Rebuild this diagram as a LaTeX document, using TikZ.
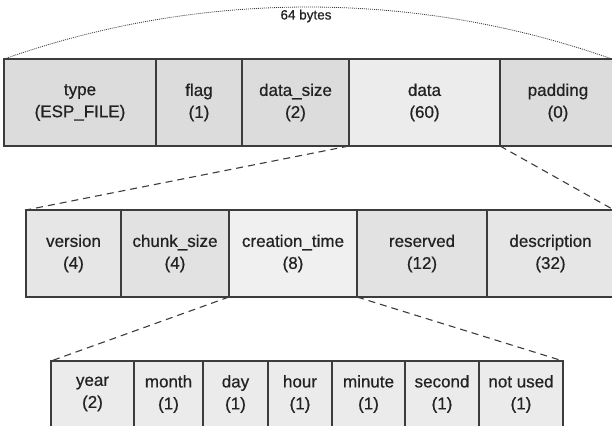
\documentclass[tikz,border=0pt]{standalone}
\usepackage{fontspec}
\setmainfont{Liberation Sans}[FakeBold=0.6]
\definecolor{ink}{HTML}{222222}
\definecolor{edge}{HTML}{3C3C3C}
\definecolor{gA}{HTML}{DCDCDC}
\definecolor{gB}{HTML}{ECECEC}
\definecolor{gC}{HTML}{E6E6E6}
\definecolor{gD}{HTML}{E2E2E2}
\definecolor{gE}{HTML}{F0F0F0}
\definecolor{gF}{HTML}{EBEBEB}
\newcommand\fieldcell[7]{\node[cell, fill=#6, minimum width={(#3-#2)*1pt}, minimum height={(#5-#4)*1pt}] (#1) at ({(#2+#3)/2},{(#4+#5)/2}) {#7};}
\begin{document}
\begin{tikzpicture}[x=1pt,y=-1pt,
  cell/.style={draw=edge, line width=1.1pt, inner sep=0pt, outer sep=0pt, align=center, text=ink, font=\fontsize{17}{22}\selectfont},
  zoomline/.style={draw=edge, line width=1.1pt, dash pattern=on 7pt off 5pt},
  spanline/.style={draw=edge, line width=0.8pt, dash pattern=on 1pt off 1pt}]
\useasboundingbox (0,0) rectangle (612,425);
\clip (0,0) rectangle (612,425);
% top row
\fieldcell{t1}{4}{156}{59}{146}{gA}{type\\(ESP\_FILE)}
\fieldcell{t2}{156}{242}{59}{146}{gA}{flag\\(1)}
\fieldcell{t3}{242}{349}{59}{146}{gA}{data\_size\\(2)}
\fieldcell{t4}{349}{500}{59}{146}{gB}{data\\(60)}
\fieldcell{t5}{500}{616}{59}{146}{gA}{padding\\(0)}
% middle row
\fieldcell{m1}{26}{121}{210}{297}{gC}{version\\(4)}
\fieldcell{m2}{121}{229}{210}{297}{gD}{chunk\_size\\(4)}
\fieldcell{m3}{229}{357}{210}{297}{gE}{creation\_time\\(8)}
\fieldcell{m4}{357}{487}{210}{297}{gD}{reserved\\(12)}
\fieldcell{m5}{487}{614}{210}{297}{gC}{description\\(32)}
% bottom row
\fieldcell{b1}{51}{134}{361}{427}{gF}{year\\(2)}
\fieldcell{b2}{134}{203}{361}{427}{gF}{month\\(1)}
\fieldcell{b3}{203}{268}{361}{427}{gF}{day\\(1)}
\fieldcell{b4}{268}{332}{361}{427}{gF}{hour\\(1)}
\fieldcell{b5}{332}{405}{361}{427}{gF}{minute\\(1)}
\fieldcell{b6}{405}{479}{361}{427}{gF}{second\\(1)}
\fieldcell{b7}{479}{563}{361}{427}{gF}{not used\\(1)}
% span label
\node[text=ink, font=\fontsize{13.5}{16}\selectfont] (lbl) at (306,16) {64 bytes};
\coordinate (arcend) at (612,59);
\draw[spanline] (t1.north west) .. controls (200.7,-10.3) and (415.3,-10.3) .. (arcend);
% zoom lines
\draw[zoomline] (t4.south west) -- (m1.north west);
\draw[zoomline] (t4.south east) -- (m5.north east);
\draw[zoomline] (m3.south west) -- (b1.north west);
\draw[zoomline] (m3.south east) -- (b7.north east);
\end{tikzpicture}
\end{document}
